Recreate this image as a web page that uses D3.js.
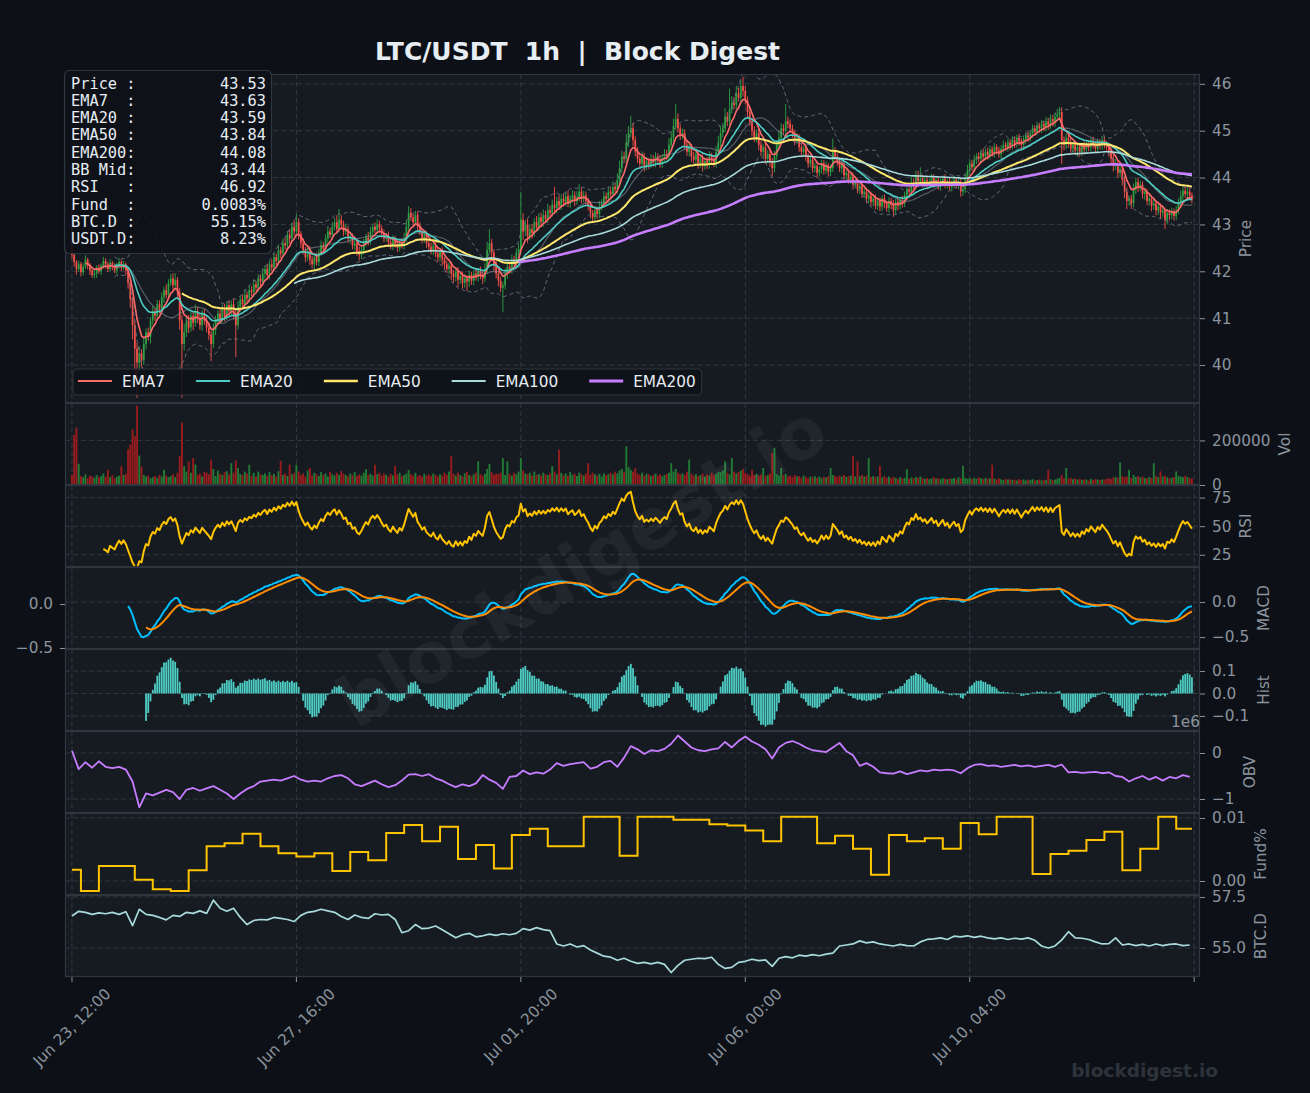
<!DOCTYPE html>
<html><head><meta charset="utf-8">
<script src="https://cdn.jsdelivr.net/npm/d3@7"></script>
<style>
html,body{margin:0;padding:0;background:#0d1117;}
svg{display:block;}
text{font-family:"DejaVu Sans",sans-serif;}
</style></head><body><svg id="chart" width="1310" height="1093"></svg>
<script>
// ---------------- DATA ----------------
const titleText = "LTC/USDT  1h  |  Block Digest";
const firstOpen = 43.30;
const closes = [
42.35,42.20,42.05,42.15,41.98,42.10,42.25,42.12,42.02,41.92,
41.95,42.08,42.00,42.12,42.22,42.15,42.05,42.18,42.10,42.02,
42.12,42.20,42.08,42.15,42.02,41.75,41.40,40.85,40.35,40.05,
40.25,40.10,40.45,40.70,40.60,40.95,41.15,41.05,41.30,41.20,
41.45,41.60,41.50,41.75,41.85,41.70,41.82,41.55,40.95,40.45,
40.70,40.95,40.80,41.05,40.90,41.15,41.00,40.85,41.10,40.95,
40.80,40.65,40.45,40.75,40.95,41.10,40.98,41.20,41.05,41.28,
41.15,41.30,41.10,40.85,41.25,41.40,41.30,41.50,41.42,41.60,
41.55,41.72,41.65,41.85,41.78,41.95,42.05,41.92,42.15,42.08,
42.30,42.22,42.45,42.38,42.60,42.55,42.78,42.70,42.95,42.85,
43.05,42.80,42.60,42.45,42.30,42.42,42.25,42.15,42.30,42.20,
42.40,42.55,42.48,42.70,42.85,42.78,42.95,43.05,42.90,43.10,
43.00,42.85,42.90,42.70,42.75,42.55,42.60,42.42,42.35,42.45,
42.60,42.72,42.65,42.85,42.95,42.88,43.00,42.92,42.80,42.70,
42.75,42.62,42.55,42.68,42.58,42.50,42.62,42.55,42.70,42.95,
43.25,43.15,43.05,43.20,42.95,42.85,42.70,42.78,42.60,42.52,
42.45,42.55,42.38,42.30,42.42,42.25,42.15,42.05,42.12,41.95,
41.88,42.00,41.82,41.90,41.75,41.85,41.78,41.92,41.80,41.95,
41.88,42.00,41.92,41.85,42.05,42.45,42.60,42.40,42.15,41.95,
41.80,41.65,41.70,41.95,42.10,42.05,42.25,42.20,42.40,42.48,
43.10,42.85,43.00,42.75,42.90,42.82,43.05,42.95,43.15,43.05,
43.20,43.12,43.30,43.25,43.42,43.35,43.50,43.40,43.55,43.48,
43.60,43.45,43.55,43.62,43.50,43.58,43.70,43.55,43.62,43.50,
43.40,43.25,43.15,43.30,43.22,43.38,43.45,43.60,43.55,43.70,
43.65,43.80,43.75,43.95,44.20,44.45,44.40,44.75,44.95,45.05,
44.80,44.55,44.40,44.30,44.45,44.25,44.35,44.28,44.40,44.32,
44.45,44.38,44.30,44.42,44.50,44.45,44.70,44.85,45.10,45.25,
45.05,44.90,44.95,44.70,44.55,44.65,44.45,44.38,44.50,44.30,
44.40,44.25,44.35,44.28,44.45,44.38,44.30,44.55,44.75,44.95,
45.05,45.30,45.20,45.45,45.60,45.55,45.80,45.70,45.95,45.85,
45.65,45.40,45.20,45.00,44.85,44.95,44.70,44.55,44.65,44.40,
44.50,44.35,44.20,44.45,44.70,44.85,45.05,45.00,45.20,45.15,
45.05,44.95,44.80,44.85,44.65,44.55,44.62,44.45,44.30,44.38,
44.20,44.25,44.10,44.18,44.30,44.15,44.25,44.12,44.20,44.55,
44.45,44.35,44.20,44.28,44.05,44.10,43.95,44.02,43.85,43.90,
43.75,43.82,43.65,43.70,43.55,43.62,43.48,43.55,43.40,43.50,
43.38,43.55,43.45,43.35,43.50,43.42,43.30,43.48,43.40,43.52,
43.45,43.62,43.75,43.70,43.90,43.85,44.05,43.92,43.98,43.88,
43.95,43.85,43.92,44.00,43.88,43.95,43.82,43.90,43.98,43.85,
43.92,43.80,43.88,43.95,43.85,43.90,43.70,43.75,44.00,44.15,
44.30,44.22,44.38,44.45,44.40,44.52,44.45,44.55,44.48,44.60,
44.52,44.65,44.58,44.50,44.62,44.70,44.65,44.75,44.68,44.80,
44.72,44.85,44.78,44.70,44.82,44.90,44.85,44.95,45.05,44.98,
45.10,45.05,45.15,45.08,45.20,45.12,45.25,45.18,45.30,45.35,
45.40,44.80,44.70,44.85,44.75,44.62,44.70,44.58,44.65,44.55,
44.68,44.60,44.72,44.65,44.78,44.70,44.62,44.75,44.68,44.80,
44.72,44.65,44.55,44.40,44.25,44.30,44.10,44.18,43.95,43.70,
43.50,43.55,43.45,43.75,43.90,43.80,43.85,43.65,43.70,43.50,
43.55,43.40,43.45,43.30,43.38,43.25,43.30,43.10,43.25,43.20,
43.28,43.18,43.30,43.45,43.60,43.72,43.65,43.70,43.62,43.53];
// upper / lower wick beyond the candle body, in cents
const hiWickCents = [
14,6,4,8,5,7,9,4,6,5, 8,5,7,4,9,6,5,8,4,7, 6,9,5,7,4,6,8,5,10,12, 15,9,12,8,10,7,11,6,9,8,
10,7,12,8,9,11,14,6,10,12, 18,9,12,10,8,14,9,11,7,10, 9,12,8,14,10,7,12,9,11,8, 10,8,12,9,11,8,10,12,7,9,
8,11,7,10,9,12,8,11,7,10, 9,8,12,7,10,11,8,12,9,14, 17,8,6,10,7,9,12,8,6,10, 8,11,7,9,12,8,10,9,14,23,
10,8,12,7,9,6,10,8,11,7, 9,8,12,10,7,9,11,8,6,9, 7,10,6,9,8,11,7,9,12,16, 14,10,8,9,7,10,6,9,8,7,
9,6,8,10,7,9,6,8,7,9, 8,6,9,7,10,8,6,9,7,8, 9,7,10,8,12,18,30,9,7,8, 6,9,8,12,10,7,11,8,9,12,
59,14,10,12,9,11,8,13,9,10, 12,9,14,10,11,38,9,12,10,11, 10,12,8,11,9,13,16,9,10,8, 7,9,6,10,8,12,9,11,8,10,
9,12,8,14,16,12,10,18,15,27, 12,8,10,7,11,8,9,7,10,8, 9,7,10,8,11,9,14,12,16,32, 12,9,10,8,11,9,7,10,8,9,
8,10,7,9,11,8,10,12,14,16, 12,18,10,45,14,12,16,11,13,20, 10,8,9,7,10,8,11,9,7,10, 8,9,7,12,10,14,11,9,37,10,
9,8,7,10,8,9,6,8,7,9, 8,7,9,6,8,7,9,6,8,28, 10,7,8,6,9,7,8,6,9,7, 8,6,9,7,8,6,8,7,9,6,
8,7,9,6,8,7,10,6,8,7, 9,8,10,7,12,8,10,9,24,8, 7,9,6,8,7,9,6,8,7,9, 6,8,7,9,6,8,7,9,10,12,
9,8,10,7,9,8,10,7,9,8, 7,9,6,8,7,9,6,8,7,9, 8,7,9,6,8,7,9,6,8,7, 9,7,8,6,9,7,10,8,9,12,
11,10,8,9,7,8,6,9,7,8, 7,9,6,8,7,9,6,8,7,9, 8,6,9,7,8,10,7,9,6,8, 9,7,8,12,10,9,8,7,9,6,
8,7,9,6,8,7,9,6,8,7, 8,6,9,10,12,9,8,10,7,6];
const loWickCents = [
8,10,12,6,9,7,5,8,10,6, 7,9,5,8,6,9,7,5,8,6, 9,6,8,5,10,12,18,30,60,75, 20,15,10,12,8,14,9,11,7,10,
9,12,8,10,7,11,9,12,20,115, 14,10,12,9,16,8,11,10,12,9, 10,12,37,9,11,8,10,7,12,9, 10,8,12,68,9,11,8,10,7,9,
8,10,7,9,11,8,10,7,9,8, 7,9,8,10,7,9,8,11,7,9, 8,12,10,9,11,8,12,9,10,8, 9,7,10,8,9,7,10,8,9,7,
8,10,7,9,11,8,10,9,12,8, 9,7,10,8,9,7,8,10,9,8, 7,9,8,10,7,9,8,7,9,8, 10,8,9,7,10,8,11,9,10,8,
9,11,8,10,9,12,10,9,11,14, 12,10,15,9,12,10,20,11,9,10, 8,10,9,12,8,10,9,12,15,10, 12,10,52,9,11,8,10,9,8,10,
12,18,10,15,9,12,8,10,9,11, 10,8,9,10,8,9,11,8,9,10, 9,8,10,9,11,8,9,10,8,9, 10,12,9,8,10,9,8,10,9,8,
9,8,10,9,8,10,9,8,10,9, 12,10,9,11,8,12,9,10,8,9, 10,8,9,10,8,9,8,10,9,8, 9,10,8,11,9,10,12,9,10,11,
9,12,8,10,9,11,8,9,8,10, 9,8,10,9,8,10,9,8,10,12, 9,11,10,12,9,10,12,9,11,10, 9,12,18,9,8,10,9,8,9,10,
9,10,11,8,10,9,11,10,9,8, 10,9,11,8,10,9,8,10,9,8, 9,10,8,11,9,10,8,9,10,8, 9,10,8,9,10,11,9,10,8,9,
10,9,11,8,10,9,14,9,10,8, 9,8,10,9,8,10,9,8,10,9, 8,10,9,8,10,9,8,10,9,8, 9,8,10,9,8,10,11,9,8,10,
9,8,10,9,8,10,9,8,10,9, 8,10,9,8,10,9,8,10,9,8, 9,8,10,9,8,10,9,8,10,9, 8,9,10,8,9,10,8,9,10,8,
9,51,12,10,9,11,10,9,12,10, 9,11,10,9,10,8,9,10,8,9, 10,9,11,10,12,9,11,10,12,14, 17,10,12,9,10,11,9,10,12,9,
10,12,9,11,10,12,9,20,10,11, 9,10,9,8,10,9,8,10,9,8];
// hourly volume, thousands of LTC
const volumeK = [
45,225,258,95,40,35,48,30,42,38, 33,45,36,40,52,38,68,35,44,30, 38,42,84,45,50,160,182,250,220,356, 132,83,45,38,42,30,35,40,32,45,
38,68,42,35,40,48,36,55,129,280, 84,60,106,55,121,91,45,52,38,60, 55,48,114,72,40,65,50,45,58,62, 48,98,55,110,76,50,45,60,52,91,
42,55,38,60,48,45,52,40,58,44, 50,38,62,109,45,52,40,91,48,55, 91,60,45,52,38,65,76,42,55,48, 40,58,45,52,38,60,48,42,55,45,
62,50,45,38,52,44,58,40,48,42, 55,71,45,50,42,91,48,55,40,52, 45,38,50,42,86,48,55,40,45,52, 68,48,42,55,40,45,38,50,42,48,
40,52,45,38,48,42,55,45,60,129, 50,42,55,45,38,52,60,45,40,48, 55,106,48,42,50,72,95,58,45,52, 48,55,121,45,106,50,42,55,48,60,
121,65,52,48,55,42,60,45,50,42, 55,48,45,52,84,60,48,159,55,45, 52,42,58,45,50,40,55,48,42,52, 98,45,55,48,42,50,38,52,45,48,
55,48,60,52,65,72,58,174,80,68, 60,76,52,45,55,42,50,48,40,45, 52,42,48,38,45,50,55,98,60,72, 55,48,52,45,60,114,50,42,48,40,
45,52,38,48,42,55,45,50,60,58, 65,106,55,48,121,60,52,58,65,72, 55,48,42,68,45,50,42,48,76,40, 45,52,144,167,48,42,76,45,50,38,
42,35,45,38,40,32,42,36,30,38, 35,40,32,38,30,36,34,40,76,45, 40,35,42,38,45,36,40,42,129,38, 106,40,45,38,42,121,36,40,35,38,
86,34,40,32,38,30,36,32,28,35, 30,32,71,28,34,30,36,32,38,30, 28,32,26,30,35,28,32,26,30,28, 26,30,28,32,26,35,30,86,32,28,
30,26,32,28,35,30,26,32,28,30, 91,28,24,30,26,22,28,24,26,22, 24,20,26,22,25,20,24,22,26,20, 22,25,20,24,22,68,26,22,24,28,
32,45,30,76,28,32,26,30,24,28, 22,26,24,20,28,22,26,24,22,25, 24,28,30,26,34,36,32,101,40,35, 38,68,32,45,36,40,34,38,32,30,
36,32,98,40,35,61,38,42,34,30, 32,36,61,40,38,35,42,36,32,28];
// OBV (millions) sampled every 3 hours
const obvEvery3h = [
0.05,-0.35,-0.2,-0.32,-0.18,-0.3,-0.33,-0.3,-0.36,-0.62, -1.18,-0.88,-0.92,-0.86,-0.8,-0.85,-1.0,-0.8,-0.76,-0.82,
-0.77,-0.72,-0.8,-0.88,-1.0,-0.88,-0.78,-0.72,-0.62,-0.6, -0.58,-0.6,-0.55,-0.5,-0.58,-0.62,-0.6,-0.62,-0.55,-0.5,
-0.48,-0.55,-0.68,-0.72,-0.66,-0.6,-0.68,-0.74,-0.7,-0.6, -0.47,-0.46,-0.5,-0.46,-0.55,-0.6,-0.68,-0.74,-0.68,-0.72,
-0.66,-0.48,-0.58,-0.65,-0.78,-0.52,-0.5,-0.38,-0.46,-0.42, -0.45,-0.36,-0.22,-0.28,-0.24,-0.22,-0.2,-0.34,-0.3,-0.2,
-0.17,-0.3,-0.1,0.15,0.08,-0.02,0.06,0.04,0.09,0.2, 0.38,0.25,0.12,0.06,0.04,0.08,0.1,0.24,0.12,0.26,
0.36,0.25,0.18,0.08,-0.12,0.12,0.22,0.26,0.2,0.12, 0.06,0.04,0.02,0.12,0.22,0.04,-0.05,-0.28,-0.22,-0.3,
-0.42,-0.44,-0.45,-0.4,-0.46,-0.42,-0.38,-0.4,-0.36,-0.38, -0.36,-0.38,-0.44,-0.33,-0.26,-0.24,-0.28,-0.27,-0.3,-0.28,
-0.26,-0.29,-0.27,-0.3,-0.28,-0.26,-0.3,-0.25,-0.42,-0.41, -0.43,-0.42,-0.41,-0.44,-0.42,-0.5,-0.52,-0.62,-0.55,-0.5,
-0.58,-0.52,-0.6,-0.52,-0.55,-0.48,-0.52];
// BTC dominance (%) sampled every 3 hours
const btcDomEvery3h = [
56.57,56.8,56.75,56.65,56.72,56.68,56.75,56.65,56.78,56.1, 56.9,56.65,56.6,56.5,56.38,56.6,56.55,56.75,56.7,56.82,
56.7,57.35,56.95,56.8,56.95,56.5,56.15,56.35,56.4,56.38, 56.5,56.45,56.4,56.3,56.6,56.75,56.8,56.9,56.82,56.75,
56.55,56.4,56.62,56.5,56.45,56.68,56.62,56.65,56.4,55.75, 55.85,56.15,55.95,55.98,56.08,55.9,55.7,55.5,55.65,55.72,
55.55,55.6,55.68,55.62,55.7,55.65,55.72,55.95,55.88,56.0, 55.9,55.85,55.2,55.1,55.2,55.05,55.12,54.9,54.75,54.6,
54.55,54.4,54.5,54.35,54.25,54.3,54.22,54.3,54.2,53.8, 54.15,54.4,54.45,54.5,54.48,54.55,54.2,54.0,54.05,54.3,
54.35,54.45,54.38,54.42,54.1,54.5,54.58,54.52,54.65,54.6, 54.68,54.62,54.7,54.75,55.1,55.15,55.2,55.35,55.25,55.3,
55.2,55.15,55.1,55.18,55.12,55.1,55.3,55.42,55.45,55.5, 55.42,55.58,55.55,55.6,55.52,55.58,55.5,55.45,55.5,55.42,
55.48,55.44,55.5,55.38,55.1,55.0,55.1,55.4,55.8,55.5, 55.48,55.42,55.3,55.2,55.22,55.5,55.15,55.2,55.12,55.18,
55.1,55.2,55.12,55.18,55.2,55.12,55.15];
// funding rate (%) per 8-hour period
const fundingPer8h = [
0.0018,-0.0016,0.0024,0.0024,0.0002,-0.0013,-0.0016,0.0017,0.0055,0.0060,
0.0075,0.0055,0.0044,0.0039,0.0044,0.0016,0.0046,0.0033,0.0076,0.0089,
0.0063,0.0086,0.0035,0.0057,0.0020,0.0073,0.0083,0.0055,0.0055,0.0102,
0.0102,0.0040,0.0102,0.0102,0.0097,0.0097,0.0090,0.0088,0.0080,0.0063,
0.0102,0.0102,0.0060,0.0072,0.0051,0.0010,0.0073,0.0063,0.0068,0.0051,
0.0092,0.0074,0.0102,0.0102,0.0011,0.0043,0.0048,0.0065,0.0078,0.0017,
0.0051,0.0102,0.0083];
const xTickIndex = [0,100,200,300,400,500];
const xTickLabels = ["Jun 23, 12:00","Jun 27, 16:00","Jul 01, 20:00","Jul 06, 00:00","Jul 10, 04:00",""];
const priceTicks = [40,41,42,43,44,45,46];
const volTicks = [0,200000];
const rsiTicks = [25,50,75];
const macdTicks = [-0.5,0];
const histTicks = [-0.1,0,0.1];
const obvTicks = [-1,0];
const fundTicks = [0,0.01];
const btcdTicks = [55,57.5];
const infoLabels = ["Price :","EMA7  :","EMA20 :","EMA50 :","EMA200:","BB Mid:","RSI   :","Fund  :","BTC.D :","USDT.D:"];
const infoValues = ["43.53","43.63","43.59","43.84","44.08","43.44","46.92","0.0083%","55.15%","8.23%"];
const emaNames = ["EMA7","EMA20","EMA50","EMA100","EMA200"];
const emaSpans = [7,20,50,100,200];
const emaColors = ["#ff6b6b","#4ecdc4","#ffe66d","#a8dadc","#c77dff"];
const emaWidths = [1.6,1.6,2,1.6,2.6];

// ---------------- INDICATORS ----------------
const n = closes.length;
const opens = closes.map((c,i)=> i===0 ? firstOpen : closes[i-1]);
const highs = closes.map((c,i)=> Math.max(opens[i],c) + (hiWickCents[i]||0)/100);
const lows  = closes.map((c,i)=> Math.min(opens[i],c) - (loWickCents[i]||0)/100);
const vols  = closes.map((c,i)=> (volumeK[i]||0)*1000);

function ema(arr, span, start){
  const a = 2/(span+1); const out = new Array(arr.length).fill(null); let prev=null;
  for(let i=start;i<arr.length;i++){ const v=arr[i]; if(v==null) continue; prev = prev==null ? v : a*v+(1-a)*prev; out[i]=prev; }
  return out;
}
function masked(arr, firstValid){ return arr.map((v,i)=> i<firstValid ? null : v); }
const emaSeries = emaSpans.map(s=> masked(ema(closes,s,0), s-1));
// Bollinger 20, 2
const bbMid=[],bbUp=[],bbLo=[];
for(let i=0;i<n;i++){
  if(i<19){bbMid.push(null);bbUp.push(null);bbLo.push(null);continue;}
  const w=closes.slice(i-19,i+1); const m=d3.mean(w); const sd=d3.deviation(w);
  bbMid.push(m); bbUp.push(m+2*sd); bbLo.push(m-2*sd);
}
// RSI 14 (Wilder)
const rsi = new Array(n).fill(null);
{ let ag=null, al=null; const a=1/14;
  for(let i=1;i<n;i++){ const d=closes[i]-closes[i-1]; const g=Math.max(d,0), l=Math.max(-d,0);
    ag = ag==null? g : a*g+(1-a)*ag; al = al==null? l : a*l+(1-a)*al;
    if(i>=14) rsi[i] = al===0 ? 100 : 100-100/(1+ag/al); } }
// MACD 12/26/9
const e12=ema(closes,12,0), e26=ema(closes,26,0);
const macd = closes.map((c,i)=> i<25 ? null : e12[i]-e26[i]);
const signal = masked(ema(macd,9,25), 33);
const hist = closes.map((c,i)=> (macd[i]==null||signal[i]==null) ? null : macd[i]-signal[i]);

// ---------------- LAYOUT ----------------
const svg = d3.select('#chart');
const W=1310, H=1093, L=65, R=1200;
const FS = 15.3, GRAY = '#8b949e', PANEL='#161b22', BORDER='#30363d', GRID='#363c45', TXT='#e6edf3';
svg.append('rect').attr('width',W).attr('height',H).attr('fill','#0d1117');
const x = d3.scaleLinear().domain([-3.1,502.6]).range([L,R]);
const step = x(1)-x(0);

const panels = [
 {key:'price',top:74, bot:403,dom:[39.19,46.21],ticks:priceTicks,fmt:d3.format('d'),label:'Price'},
 {key:'vol',  top:403,bot:485,dom:[0,368000],   ticks:volTicks,  fmt:d3.format('d'),label:'Vol'},
 {key:'rsi',  top:485,bot:567,dom:[14.3,86],    ticks:rsiTicks,  fmt:d3.format('d'),label:'RSI'},
 {key:'macd', top:567,bot:649,dom:[-0.67,0.5],  ticks:macdTicks, fmt:d3.format('.1f'),label:'MACD'},
 {key:'hist', top:649,bot:731,dom:[-0.167,0.198],ticks:histTicks,fmt:d3.format('.1f'),label:'Hist'},
 {key:'obv',  top:731,bot:813,dom:[-1.304,0.478],ticks:obvTicks, fmt:d3.format('d'),label:'OBV'},
 {key:'fund', top:813,bot:895,dom:[-0.00222,0.01079],ticks:fundTicks,fmt:d3.format('.2f'),label:'Fund%'},
 {key:'btcd', top:895,bot:977,dom:[53.58,57.6], ticks:btcdTicks, fmt:d3.format('.1f'),label:'BTC.D'},
];
const P = {};
const defs = svg.append('defs');
panels.forEach(p=>{
  p.y = d3.scaleLinear().domain(p.dom).range([p.bot,p.top]);
  p.g = svg.append('g');
  p.g.append('rect').attr('x',L).attr('y',p.top).attr('width',R-L).attr('height',p.bot-p.top).attr('fill',PANEL);
  const grid = p.g.append('g').attr('stroke',GRID).attr('stroke-width',0.9).attr('stroke-dasharray','5,3');
  p.ticks.forEach(t=> grid.append('line').attr('x1',L).attr('x2',R).attr('y1',p.y(t)).attr('y2',p.y(t)));
  xTickIndex.forEach(t=> grid.append('line').attr('x1',x(t)).attr('x2',x(t)).attr('y1',p.top).attr('y2',p.bot));
  defs.append('clipPath').attr('id','clip-'+p.key).append('rect').attr('x',L).attr('y',p.top).attr('width',R-L).attr('height',p.bot-p.top);
  p.c = p.g.append('g').attr('clip-path',`url(#clip-${p.key})`);
  P[p.key]=p;
});

function line(yS, curve){ return d3.line().defined(d=>d[1]!=null).x(d=>x(d[0])).y(d=>yS(d[1])).curve(curve||d3.curveLinear); }
function drawSeries(p, arr, color, width, dash, opacity){
  p.c.append('path').attr('d', line(p.y)(arr.map((v,i)=>[i,v]))).attr('fill','none')
   .attr('stroke',color).attr('stroke-width',width).attr('stroke-dasharray',dash||null)
   .attr('stroke-opacity',opacity==null?1:opacity).attr('stroke-linejoin','round');
}

// ---- price candles ----
const UP='#2ea043', DN='#f85149';
{
  const p=P.price; const cg=p.c.append('g');
  closes.forEach((c,i)=>{
    const col = c>=opens[i] ? UP : DN;
    cg.append('line').attr('x1',x(i)).attr('x2',x(i)).attr('y1',p.y(highs[i])).attr('y2',p.y(lows[i])).attr('stroke',col).attr('stroke-width',0.9);
    const y1=p.y(Math.max(c,opens[i])), y2=p.y(Math.min(c,opens[i]));
    cg.append('rect').attr('x',x(i)-0.85).attr('width',1.7).attr('y',y1).attr('height',Math.max(0.8,y2-y1)).attr('fill',col);
  });
  drawSeries(p,bbUp,'#6e7681',1,'4,3',0.85);
  drawSeries(p,bbLo,'#6e7681',1,'4,3',0.85);
  drawSeries(p,bbMid,'#8b949e',1.2,null,0.55);
  emaSeries.forEach((s,k)=> drawSeries(p,s,emaColors[k],emaWidths[k]));
}
// ---- volume ----
{
  const p=P.vol;
  vols.forEach((v,i)=>{
    const up = closes[i]>=opens[i];
    p.c.append('rect').attr('x',x(i)-step*0.42).attr('width',step*0.84).attr('y',p.y(v)).attr('height',p.y(0)-p.y(v))
      .attr('fill', up ? '#238636' : '#a61d1d').attr('fill-opacity',0.9);
  });
}
// ---- RSI ----
drawSeries(P.rsi,rsi,'#ffc300',2);
// ---- MACD ----
drawSeries(P.macd,macd,'#00bfff',2);
drawSeries(P.macd,signal,'#ff8c00',2);
// ---- Hist ----
{
  const p=P.hist;
  hist.forEach((h,i)=>{ if(h==null) return;
    const y0=p.y(0), y1=p.y(h);
    p.c.append('rect').attr('x',x(i)-step*0.4).attr('width',step*0.8).attr('y',Math.min(y0,y1)).attr('height',Math.abs(y1-y0)).attr('fill','#4ecdc4');
  });
}
// ---- OBV ----
{
  const p=P.obv;
  p.c.append('path').attr('d',line(p.y)(obvEvery3h.map((v,k)=>[Math.min(3*k,n-1),v]))).attr('fill','none').attr('stroke','#c77dff').attr('stroke-width',1.8).attr('stroke-linejoin','round');
}
// ---- Funding ----
{
  const p=P.fund;
  const pts = fundingPer8h.map((v,k)=>[Math.max(0,8*k-4),v]);
  pts.push([n-1, fundingPer8h[fundingPer8h.length-1]]);
  p.c.append('path').attr('d',line(p.y,d3.curveStepAfter)(pts)).attr('fill','none').attr('stroke','#ffc300').attr('stroke-width',2);
}
// ---- BTC.D ----
{
  const p=P.btcd;
  p.c.append('path').attr('d',line(p.y)(btcDomEvery3h.map((v,k)=>[Math.min(3*k,n-1),v]))).attr('fill','none').attr('stroke','#a8dadc').attr('stroke-width',1.7).attr('stroke-linejoin','round');
}

// ---- borders, axes ----
panels.forEach(p=>{
  p.g.append('rect').attr('x',L+0.5).attr('y',p.top+0.5).attr('width',R-L-1).attr('height',p.bot-p.top-1).attr('fill','none').attr('stroke',BORDER).attr('stroke-width',1.2);
  const ax = svg.append('g').attr('transform',`translate(${R},0)`)
    .call(d3.axisRight(p.y).tickValues(p.ticks).tickFormat(p.fmt).tickSize(5).tickPadding(7));
  ax.select('.domain').remove();
  ax.selectAll('line').attr('stroke',GRAY);
  ax.selectAll('text').attr('fill',GRAY).style('font-size',FS+'px').style('font-family','DejaVu Sans');
  let maxR = R;
  ax.selectAll('text').each(function(){ const b=this.getBBox(); maxR=Math.max(maxR, R+b.x+b.width); });
  const cy=(p.top+p.bot)/2, lx=maxR+15;
  svg.append('text').attr('transform',`translate(${lx},${cy}) rotate(-90)`).attr('text-anchor','middle').attr('dominant-baseline','central')
    .attr('fill',GRAY).style('font-size',FS+'px').text(p.label);
});
// MACD left axis
{
  const yl = d3.scaleLinear().domain([-0.5,0]).range([648,604]);
  const ax = svg.append('g').attr('transform',`translate(${L},0)`).call(d3.axisLeft(yl).tickValues(macdTicks).tickFormat(d3.format('.1f')).tickSize(5).tickPadding(7));
  ax.select('.domain').remove();
  ax.selectAll('line').attr('stroke',GRAY);
  ax.selectAll('text').attr('fill',GRAY).style('font-size',FS+'px').style('font-family','DejaVu Sans');
}
// OBV offset
svg.append('text').attr('x',R).attr('y',722).attr('text-anchor','end').attr('dominant-baseline','central').attr('fill',GRAY).style('font-size',FS+'px').text('1e6');

// x axis ticks
{
  const g = svg.append('g');
  xTickIndex.forEach((t,k)=>{
    g.append('line').attr('x1',x(t)).attr('x2',x(t)).attr('y1',977).attr('y2',982).attr('stroke',GRAY);
    if(!xTickLabels[k]) return;
    const tx = g.append('text').attr('text-anchor','middle').attr('dominant-baseline','central').attr('fill',GRAY).style('font-size',FS+'px').text(xTickLabels[k]);
    const len = tx.node().getComputedTextLength();
    const half = (len + FS*1.16)*Math.SQRT1_2/2;
    tx.attr('transform',`translate(${x(t)},${985+half}) rotate(-45)`);
  });
}

// title
svg.append('text').attr('x',577.5).attr('y',60).attr('text-anchor','middle').attr('fill',TXT)
  .style('font-size','25px').style('font-weight','bold').style('white-space','pre').text(titleText);

// legend
{
  const g = svg.append('g');
  const box = g.append('rect').attr('x',73).attr('y',369).attr('height',26).attr('rx',4).attr('fill','#0d1117').attr('fill-opacity',0.85).attr('stroke',BORDER);
  let cx = 78;
  emaNames.forEach((nm,k)=>{
    g.append('line').attr('x1',cx).attr('x2',cx+34).attr('y1',381).attr('y2',381).attr('stroke',emaColors[k]).attr('stroke-width',emaWidths[k]+0.6);
    const t = g.append('text').attr('x',cx+44).attr('y',382).attr('dominant-baseline','central').attr('fill',TXT).style('font-size',FS+'px').text(nm);
    cx = cx+44+t.node().getComputedTextLength()+31;
  });
  box.attr('width', cx-31+6-73);
}

// info box
{
  const g = svg.append('g');
  g.append('rect').attr('x',64.5).attr('y',70.5).attr('width',207).attr('height',183).attr('rx',5).attr('fill','#0d1117').attr('fill-opacity',0.9).attr('stroke',BORDER).attr('stroke-width',1.2);
  infoLabels.forEach((lab,k)=>{
    const cy = 83.5 + k*17.33;
    g.append('text').attr('x',71).attr('y',cy).attr('dominant-baseline','central').attr('fill',TXT)
      .style('font-family','DejaVu Sans Mono').style('font-size','15.3px').style('white-space','pre').text(lab);
    g.append('text').attr('x',266).attr('y',cy).attr('text-anchor','end').attr('dominant-baseline','central').attr('fill',TXT)
      .style('font-family','DejaVu Sans Mono').style('font-size','15.3px').text(infoValues[k]);
  });
}

// watermarks
svg.append('text').attr('transform','translate(582,566) rotate(-31)').attr('text-anchor','middle').attr('dominant-baseline','central')
  .attr('fill','#ffffff').attr('fill-opacity',0.05).style('font-size','70px').style('font-weight','bold').text('blockdigest.io');
svg.append('text').attr('x',1218).attr('y',1077).attr('text-anchor','end').attr('fill','#2d333b')
  .style('font-size','18.5px').style('font-weight','bold').text('blockdigest.io');
</script></body></html>
